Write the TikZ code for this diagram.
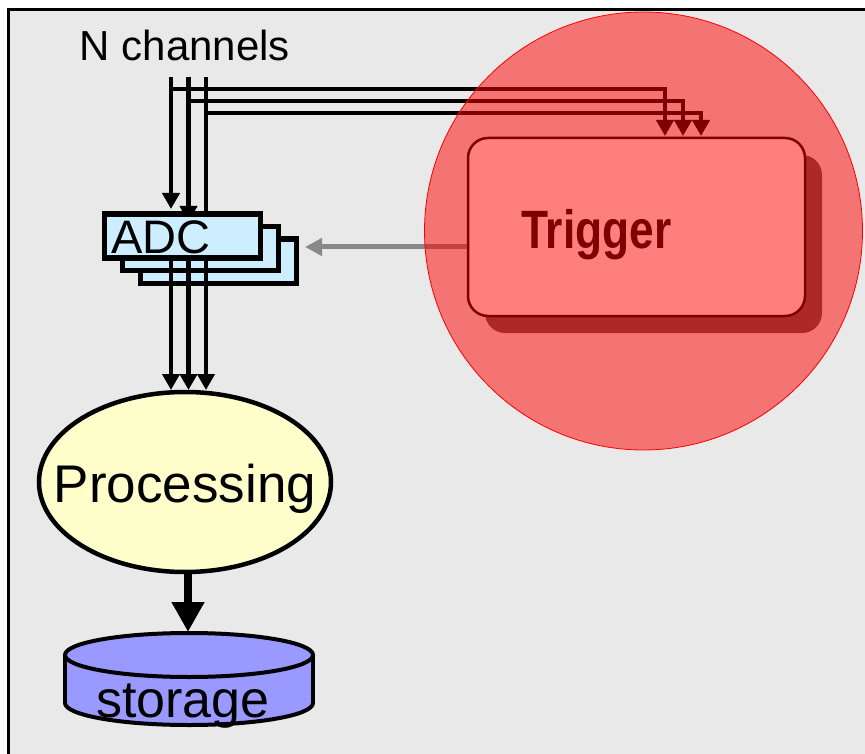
\documentclass[tikz,border=0pt]{standalone}
\usepackage{fontspec}
\setmainfont{Liberation Sans}
\usetikzlibrary{arrows.meta,shapes.geometric}
\definecolor{bggray}{RGB}{233,233,233}
\definecolor{adcblue}{RGB}{204,238,255}
\definecolor{procyellow}{RGB}{255,255,204}
\definecolor{storblue}{RGB}{153,153,255}
\definecolor{arrgray}{RGB}{136,136,136}
\definecolor{shadowgray}{RGB}{92,82,82}
\begin{document}
\begin{tikzpicture}[x=1pt,y=-1pt,
  chan/.style={line width=4.5pt},
  chanarrow/.style={line width=4.5pt,-{Triangle[length=16pt,width=17pt]}},
  adcbox/.style={draw,line width=5.5pt,fill=adcblue,minimum width=156pt,minimum height=44pt,inner sep=0pt,anchor=north west},
  trigbox/.style={rounded corners=20pt,minimum width=337pt,minimum height=178pt,inner sep=0pt},
  lbl/.style={inner sep=0pt,anchor=base}]
\useasboundingbox (0,0) rectangle (865,754);
\fill[white] (0,0) rectangle (865,754);
\draw[fill=bggray,line width=3pt] (8.5,9.5) rectangle (900,800);

% channels
\node[lbl,font=\fontsize{42}{48}\selectfont] (nch) at (185,61) {N channels};
\coordinate (c1) at (171,77);
\coordinate (c2) at (188.5,77);
\coordinate (c3) at (206,77);
\coordinate (t1) at (665,136);
\coordinate (t2) at (683,136);
\coordinate (t3) at (701,136);
\draw[chanarrow] (c1) -- (171,209);
\draw[chanarrow] (c2) -- (188.5,222);
\draw[chanarrow] (c3) -- (206,234);
\draw[chanarrow] (c1 |- 0,89) -- (t1 |- 0,89) -- (t1);
\draw[chanarrow] (c2 |- 0,101) -- (t2 |- 0,101) -- (t2);
\draw[chanarrow] (c3 |- 0,113) -- (t3 |- 0,113) -- (t3);

% ADC boxes
\node[adcbox] (adc3) at (137.5,236.5) {};
\node[adcbox] (adc2) at (119.5,224) {};
\node[adcbox] (adc1) at (101.5,211.5) {};
\node[inner sep=0pt,anchor=base west,font=\fontsize{47}{52}\selectfont] (adct) at (111,254) {ADC};

% Processing
\node[ellipse,draw,line width=4.5pt,fill=procyellow,minimum width=292pt,minimum height=180pt,inner sep=0pt] (proc) at (185,482) {};
\node[lbl,font=\fontsize{53}{60}\selectfont] (proct) at (185,502) {Processing};
\draw[chanarrow] (adc1.south -| c1) -- (171,390);
\draw[chanarrow] (adc1.south -| c2) -- (188.5,390);
\draw[chanarrow] (adc1.south -| c3) -- (206,390);

% storage
\fill[storblue] (189,703) ellipse[x radius=124, y radius=22];
\draw[line width=4pt] (189,703) ellipse[x radius=124, y radius=22];
\fill[storblue] (65,655) rectangle (313,703);
\draw[line width=4pt] (65,655) -- (65,703) (313,655) -- (313,703);
\draw[line width=4pt,fill=storblue] (189,655) ellipse[x radius=124, y radius=22];
\coordinate (stortop) at (188,632);
\node[lbl,font=\fontsize{52}{58}\selectfont] (stor) at (183,717) {storage};
\draw[line width=8pt,-{Triangle[length=30pt,width=31pt]}] (proc.south -| stortop) -- (stortop);

% Trigger
\node[trigbox,fill=shadowgray] (trigsh) at (653.5,244) {};
\node[trigbox,draw,line width=2.5pt,fill=white] (trig) at (636.5,227) {};
\node[inner sep=0pt,anchor=base west,font=\fontsize{54}{60}\selectfont\bfseries] (trigt) at (521,249) {\scalebox{0.82}[1]{Trigger}};
\coordinate (adctip) at (305,247);
\draw[arrgray,line width=5pt,-{Triangle[length=17pt,width=17pt]}] (trig.west |- adctip) -- (adctip);

% red overlay
\draw[red,line width=0.8pt,fill=red,fill opacity=0.5] (643.5,231) circle[radius=219];
\end{tikzpicture}
\end{document}
